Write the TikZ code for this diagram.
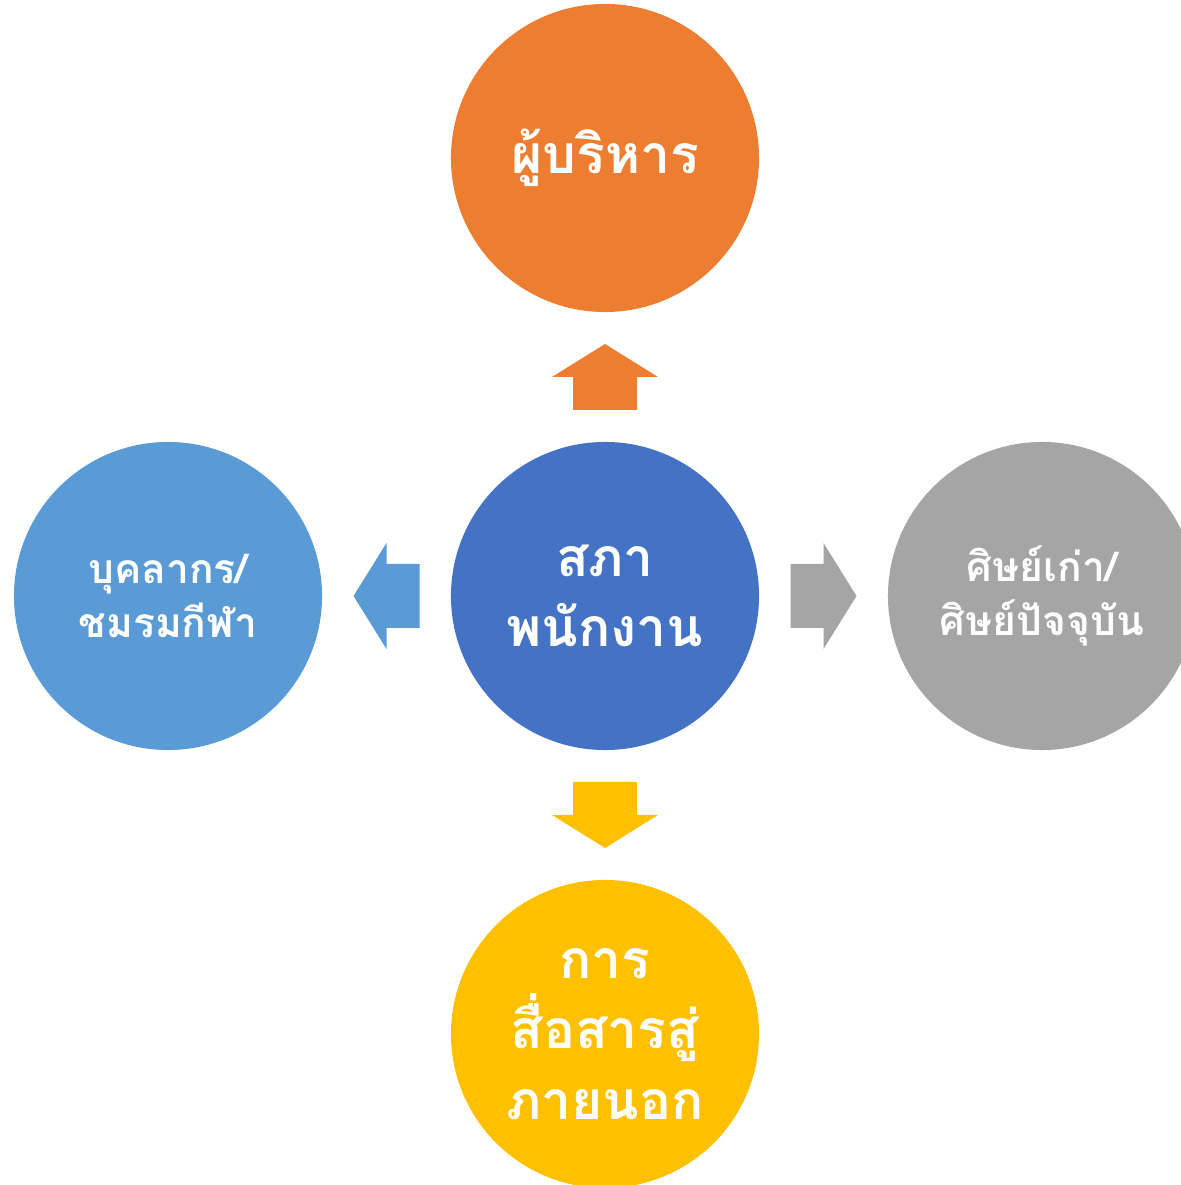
\documentclass[tikz,border=0pt]{standalone}
\usepackage{fontspec}
\newfontfamily\thaifont[Script=Thai]{Loma}
\usetikzlibrary{calc, positioning}
\definecolor{ocOrange}{HTML}{ED7D31}
\definecolor{ocBlue}{HTML}{4472C4}
\definecolor{ocSky}{HTML}{5B9BD5}
\definecolor{ocGray}{HTML}{A5A5A5}
\definecolor{ocGold}{HTML}{FFC000}
\tikzset{
    bubble/.style = {
        circle, minimum size=7.7cm, inner sep=0pt, text=white, align=center
    },
    bigtext/.style = {font=\thaifont\bfseries\fontsize{38}{50}\selectfont},
    smalltext/.style = {font=\thaifont\bfseries\fontsize{29}{38.5}\selectfont},
    pics/blockarrow/.style = {
        code = {
            \fill[#1] (-33,-32) -- (0,-32) -- (0,-53) -- (33,0) -- (0,53) -- (0,32) -- (-33,32) -- cycle;
    }}
}

\begin{document}
\begin{tikzpicture}[x=0.025cm, y=0.025cm]
        \useasboundingbox (0,0) rectangle (1181,1185);
        \clip (0,0) rectangle (1181,1185);
        % Place the circles
        \node[bubble, bigtext, fill=ocBlue] (council) at (605,589) {สภา\\พนักงาน};
        \node[bubble, bigtext, fill=ocOrange] (admin) at (605,1027) {ผู้บริหาร};
        \node[bubble, bigtext, fill=ocGold] (outside) at (605,151) {การ\\สื่อสารสู่\\ภายนอก};
        \node[bubble, smalltext, fill=ocSky] (staff) at (168,589) {บุคลากร/\\ชมรมกีฬา};
        \node[bubble, smalltext, fill=ocGray] (students) at (1042,589) {ศิษย์เก่า/\\ศิษย์ปัจจุบัน};

        % Place the arrows
        \path ($(council.north)!0.5!(admin.south)$) pic[rotate=90] {blockarrow=ocOrange};
        \path ($(council.south)!0.5!(outside.north)$) pic[rotate=-90] {blockarrow=ocGold};
        \path ($(council.west)!0.5!(staff.east)$) pic[rotate=180] {blockarrow=ocSky};
        \path ($(council.east)!0.5!(students.west)$) pic {blockarrow=ocGray};
\end{tikzpicture}
\end{document}
